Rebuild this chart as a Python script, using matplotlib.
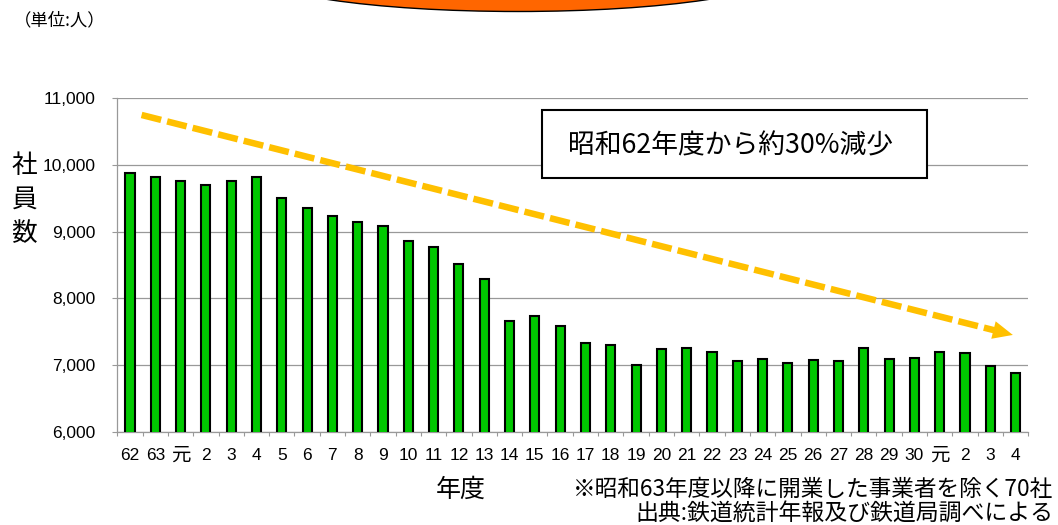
import matplotlib
matplotlib.use('Agg')
import matplotlib.pyplot as plt
from matplotlib.patches import Ellipse, Rectangle, Polygon
from matplotlib.ticker import FuncFormatter
import numpy as np

# ---- data ----
categories = ['62', '63', '元', '2', '3', '4', '5', '6', '7', '8', '9', '10',
              '11', '12', '13', '14', '15', '16', '17', '18', '19', '20', '21',
              '22', '23', '24', '25', '26', '27', '28', '29', '30', '元', '2',
              '3', '4']
employees = [9875, 9820, 9760, 9705, 9765, 9820, 9500, 9350, 9230, 9145, 9090,
             8860, 8765, 8515, 8295, 7665, 7740, 7590, 7330, 7295, 6995, 7235,
             7260, 7200, 7060, 7095, 7030, 7070, 7065, 7260, 7085, 7100, 7195,
             7185, 6985, 6880]
y_ticks = [6000, 7000, 8000, 9000, 10000, 11000]
trend_start = (0.46, 10750)
trend_end = (34.89, 7451)

unit_label = '（単位:人）'
y_label = '社\n員\n数'
x_label = '年度'
box_text = '昭和62年度から約30%減少'
note1 = '※昭和63年度以降に開業した事業者を除く70社'
note2 = '出典:鉄道統計年報及び鉄道局調べによる'

CJK = ['Noto Sans CJK JP', 'DejaVu Sans']
LAT = ['Liberation Sans', 'Noto Sans CJK JP', 'DejaVu Sans']

W, H = 1058, 525
fig = plt.figure(figsize=(W / 100, H / 100), dpi=100)
ax = fig.add_axes([117.3 / W, 1 - 431.7 / H, (1028.3 - 117.3) / W, (431.7 - 98.3) / H])

x = np.arange(len(categories))
ax.bar(x, employees, width=0.36, color='#00C800', edgecolor='black',
       linewidth=1.5, zorder=3)

ax.set_xlim(-0.5, len(categories) - 0.5)
ax.set_ylim(y_ticks[0], y_ticks[-1])
ax.set_yticks(y_ticks)
ax.yaxis.set_major_formatter(FuncFormatter(lambda v, p: f'{int(v):,}'))
ax.set_xticks(x)
ax.set_xticklabels(categories)
ax.set_xticks(np.arange(-0.5, len(categories), 1), minor=True)

ax.tick_params(axis='x', which='major', length=0, pad=11.5)
ax.tick_params(axis='x', which='minor', length=3, color='#999999', width=0.8)
ax.tick_params(axis='y', length=3.6, color='#999999', width=0.8, pad=12)
for lab in ax.get_xticklabels():
    lab.set_fontfamily(LAT)
    lab.set_fontsize(12.5)
    if lab.get_text() == '元':
        lab.set_fontsize(14)
for lab in ax.get_yticklabels():
    lab.set_fontfamily(LAT)
    lab.set_fontsize(12.5)

ax.grid(axis='y', color='#999999', linewidth=0.9, zorder=0)
ax.set_axisbelow(True)
for s in ['top', 'right']:
    ax.spines[s].set_visible(False)
for s in ['left', 'bottom']:
    ax.spines[s].set_color('#999999')
    ax.spines[s].set_linewidth(0.9)

# trend arrow (dashed line + solid head)
fig.canvas.draw()
p0 = ax.transData.transform(trend_start)
p1 = ax.transData.transform(trend_end)
u = (p1 - p0) / np.linalg.norm(p1 - p0)
n = np.array([-u[1], u[0]])
head_len, head_half = 20, 9
base = p1 - u * head_len
inv = ax.transData.inverted()
lw_px = 6.5
ax.plot(*zip(trend_start, inv.transform(base + u * 1)), color='#FFC000',
        linewidth=lw_px * 0.72, linestyle=(0, (3.1, 0.95)), zorder=4,
        solid_capstyle='butt', dash_capstyle='butt')
tri = inv.transform(np.array([p1, base + n * head_half, base - n * head_half]))
ax.add_patch(Polygon(tri, closed=True, color='#FFC000', zorder=4, lw=0))

# annotation box
fig.patches.append(Rectangle((541.7 / W, 1 - 178.3 / H), 385.6 / W, 68.3 / H,
                             transform=fig.transFigure, facecolor='white',
                             edgecolor='black', linewidth=1.5, zorder=5))
fig.text(731 / W, 1 - 146 / H, box_text, ha='center', va='center',
         fontsize=19.3, family=CJK, zorder=6)

# orange shape at top
fig.patches.append(Ellipse((518 / W, 1 + 28.5 / H), 532 / W, 80 / H,
                           transform=fig.transFigure, facecolor='#FF6600',
                           edgecolor='black', linewidth=1.0, zorder=5))

# texts
fig.text(14 / W, 1 - 20 / H, unit_label, ha='left', va='center', fontsize=12.5,
         family=CJK)
fig.text(24 / W, 1 - 200 / H, y_label, ha='center', va='center', fontsize=18.5,
         family=CJK, linespacing=1.4)
fig.text(461 / W, 1 - 490 / H, x_label, ha='center', va='center', fontsize=18,
         family=CJK)
fig.text(1053 / W, 1 - 489 / H, note1, ha='right', va='center', fontsize=16.3,
         family=CJK)
fig.text(1053 / W, 1 - 513 / H, note2, ha='right', va='center', fontsize=16.5,
         family=CJK)

fig.savefig('out.png', dpi=100)
